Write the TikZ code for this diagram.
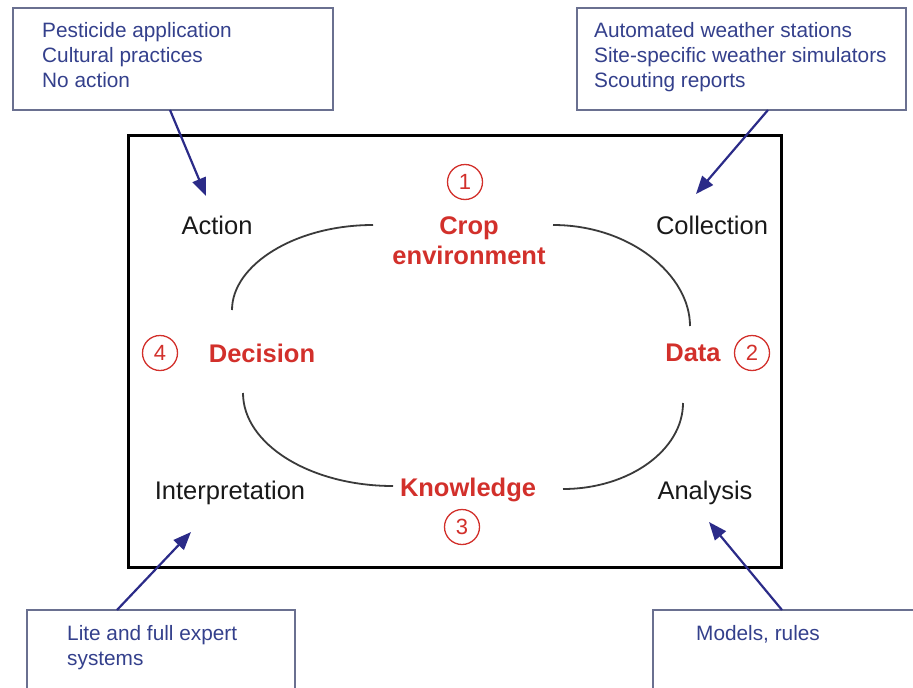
\documentclass[tikz,border=0pt]{standalone}
\usepackage{fontspec}
\setmainfont{Liberation Sans}
\usetikzlibrary{arrows.meta}
\definecolor{notecol}{HTML}{34408C}
\definecolor{noteedge}{HTML}{6A7090}
\definecolor{stepred}{HTML}{D2302B}
\definecolor{arrowblue}{HTML}{2B2B88}
\definecolor{cyclegray}{HTML}{3A3A3A}
\tikzset{
  notebox/.style={draw=noteedge, line width=1.2pt, fill=white},
  notetext/.style={text=notecol, font=\fontsize{20.8}{25}\selectfont, anchor=base west, inner sep=0pt},
  stage/.style={text=black!90, font=\fontsize{25.5}{28}\selectfont, inner sep=0pt},
  core/.style={text=stepred, font=\bfseries\fontsize{25.5}{30}\selectfont, inner sep=0pt, align=center},
  num/.style={circle, draw=stepred, line width=1.3pt, text=stepred, minimum size=35pt, inner sep=0pt, font=\fontsize{22}{22}\selectfont},
  pointer/.style={draw=arrowblue, line width=2.2pt, -{Triangle[length=18pt,width=14pt]}},
  cycle/.style={draw=cyclegray, line width=1.8pt},
}
\begin{document}
\begin{tikzpicture}[x=1pt,y=-1pt]
\useasboundingbox (0,0) rectangle (913,688);

% note boxes
\draw[notebox] (13,8) rectangle (333,110);
\draw[notebox] (577,8) rectangle (906,110);
\draw[notebox] (27,610) rectangle (295,690);
\draw[notebox] (653,610) rectangle (915,690);

\node[notetext] (ta1) at (42,37) {Pesticide application};
\node[notetext] (ta2) at (42,62) {Cultural practices};
\node[notetext] (ta3) at (42,87) {No action};
\node[notetext] (tb1) at (594,37) {Automated weather stations};
\node[notetext] (tb2) at (594,62) {Site-specific weather simulators};
\node[notetext] (tb3) at (594,87) {Scouting reports};
\node[notetext] (bl1) at (67,640) {Lite and full expert};
\node[notetext] (bl2) at (67,665) {systems};
\node[notetext] (br1) at (696,640) {Models, rules};

% main frame
\draw[line width=3pt, black] (128,135) rectangle (781,567);

% stage labels
\node[stage] (action) at (217,225) {Action};
\node[stage] (collection) at (712,225) {Collection};
\node[stage] (interp) at (230,493) {Interpretation};
\node[stage] (analysis) at (705,493) {Analysis};

% core cycle labels
\node[core] (crop) at (469,241) {Crop\\environment};
\node[core] (decision) at (262,353) {Decision};
\node[core] (data) at (693,353) {Data};
\node[core] (knowledge) at (468,490) {Knowledge};

\node[num] (n1) at (465,182) {1};
\node[num] (n2) at (752,353) {2};
\node[num] (n3) at (462,527) {3};
\node[num] (n4) at (160,353) {4};

% cycle arcs
\coordinate (c1a) at (373,225);
\coordinate (c1b) at (232,310);
\coordinate (c2a) at (553,225);
\coordinate (c2b) at (690,326);
\coordinate (c3a) at (243,393);
\coordinate (c3b) at (393,486);
\coordinate (c4a) at (683,403);
\coordinate (c4b) at (563,489);
\draw[cycle] (c1a) .. controls (295,225) and (232,265) .. (c1b);
\draw[cycle] (c2a) .. controls (630,225) and (690,275) .. (c2b);
\draw[cycle] (c3a) .. controls (243,444) and (310,486) .. (c3b);
\draw[cycle] (c4a) .. controls (683,450) and (629,489) .. (c4b);

% pointers from notes to stages
\coordinate (pa0) at (170,110);
\coordinate (pa1) at (206,196);
\coordinate (pb0) at (768,110);
\coordinate (pb1) at (696,194);
\coordinate (pc0) at (117,610);
\coordinate (pc1) at (191,532);
\coordinate (pd0) at (782,610);
\coordinate (pd1) at (709,522);
\draw[pointer] (pa0) -- (pa1);
\draw[pointer] (pb0) -- (pb1);
\draw[pointer] (pc0) -- (pc1);
\draw[pointer] (pd0) -- (pd1);
\end{tikzpicture}
\end{document}
